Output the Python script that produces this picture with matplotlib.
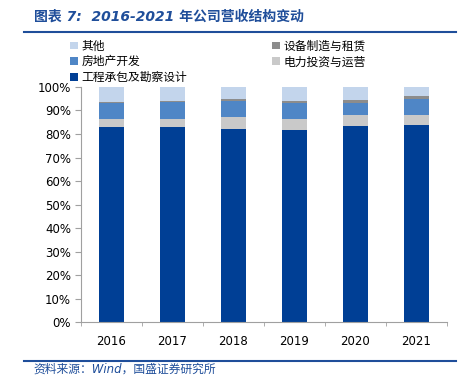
import numpy as np
import matplotlib.pyplot as plt
from matplotlib.patches import Patch
from matplotlib.lines import Line2D

plt.rcParams['font.family'] = ['DejaVu Sans', 'Noto Sans CJK SC']

years = ['2016', '2017', '2018', '2019', '2020', '2021']
# 各业务板块占比 (%)
engineering = [83.0, 83.0, 82.3, 81.5, 83.4, 83.7]   # 工程承包及勘察设计
power = [3.2, 3.5, 4.8, 5.0, 4.5, 4.2]              # 电力投资与运营
real_estate = [6.8, 7.0, 6.8, 6.5, 5.3, 6.8]        # 房地产开发
equipment = [0.7, 0.7, 0.8, 1.0, 1.1, 1.3]          # 设备制造与租赁
other = [6.3, 5.8, 5.3, 6.0, 5.7, 4.0]              # 其他

series = [
    ('工程承包及勘察设计', engineering, '#003F95'),
    ('电力投资与运营', power, '#C9C9C9'),
    ('房地产开发', real_estate, '#4F86C6'),
    ('设备制造与租赁', equipment, '#8C8C8C'),
    ('其他', other, '#C3D5EC'),
]

fig = plt.figure(figsize=(4.69, 3.88), dpi=100)
ax = fig.add_axes([0.172, 0.169, 0.781, 0.607])

x = np.arange(len(years))
bottom = np.zeros(len(years))
handles = {}
for name, vals, color in series:
    vals = np.array(vals) / 100.0
    ax.bar(x, vals, width=0.41, bottom=bottom, color=color, edgecolor='none')
    bottom += vals
    handles[name] = Patch(facecolor=color, edgecolor='none')

ax.set_xlim(-0.5, len(years) - 0.5)
ax.set_ylim(0, 1.0)
ax.set_yticks(np.arange(0, 1.01, 0.1))
ax.set_yticklabels([f'{int(round(v * 100))}%' for v in np.arange(0, 1.01, 0.1)], fontsize=8.5)
ax.set_xticks(x)
ax.set_xticklabels(years, fontsize=8.5)
ax.set_xticks(np.arange(-0.5, len(years)), minor=True)
ax.tick_params(axis='x', which='major', length=0, pad=9)
ax.tick_params(axis='x', which='minor', length=3, color='#A0A0A0', direction='out')
ax.tick_params(axis='y', length=4, color='#A0A0A0', pad=3)
for s in ['top', 'right']:
    ax.spines[s].set_visible(False)
for s in ['left', 'bottom']:
    ax.spines[s].set_color('#A0A0A0')
    ax.spines[s].set_linewidth(0.8)

# 图例
order = ['其他', '房地产开发', '工程承包及勘察设计', '设备制造与租赁', '电力投资与运营']
leg = fig.legend([handles[n] for n in order], order, ncol=2, loc='upper left',
                 bbox_to_anchor=(0.14, 0.91), frameon=False,
                 handlelength=0.65, handleheight=0.65, handletextpad=0.3,
                 labelspacing=0.22, columnspacing=7.2, borderaxespad=0,
                 prop={'family': ['Noto Sans CJK SC'], 'size': 8.5})

# 标题与来源
blue = '#1F4E9A'
fig.text(0.072, 0.958, '图表 7:  2016-2021 年公司营收结构变动', color=blue,
         fontsize=10, style='italic', fontweight='semibold', va='center',
         family=['DejaVu Sans', 'Noto Sans CJK SC'])
fig.add_artist(Line2D([0.051, 0.972], [0.917, 0.917], color=blue, lw=1.5))
fig.add_artist(Line2D([0.051, 0.972], [0.070, 0.070], color=blue, lw=1.5))
fig.text(0.072, 0.048, '资料来源：Wind，国盛证券研究所', color=blue, fontsize=8.5,
         style='italic', va='center', family=['DejaVu Sans', 'Noto Sans CJK SC'])

fig.savefig('out.png', dpi=100)
